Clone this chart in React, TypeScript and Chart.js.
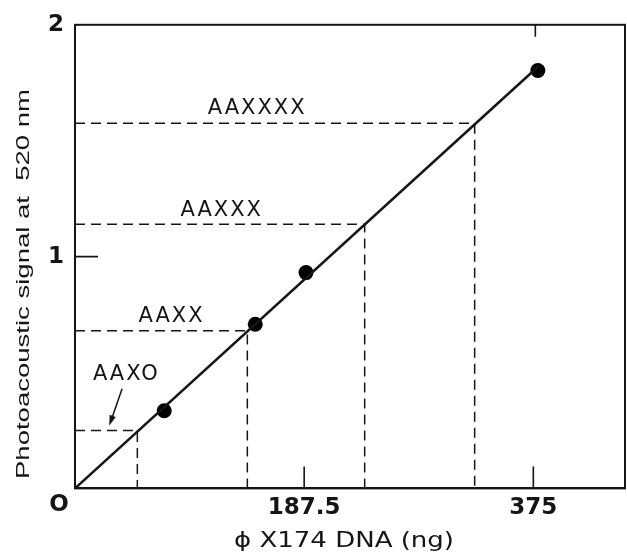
import React, { useEffect, useRef } from 'react';
import { Chart, registerables } from 'chart.js';

Chart.register(...registerables);

// ---- data ----
const pointsX = [73, 147.5, 189, 378.7];
const pointsY = [0.335, 0.708, 0.931, 1.803];
const fitX = [0, 379];
const fitY = [0, 1.82];
const guideLabels = ['AAXO', 'AAXX', 'AAXXX', 'AAXXXX'];
const guideX = [51, 141, 237, 327];
const guideY = [0.25, 0.68, 1.14, 1.575];
const labelX = [42, 79, 120, 149];
const labelY = [0.49, 0.74, 1.2, 1.64];
const arrowFrom = [38.5, 0.43];
const arrowTo = [28, 0.27];
const xTickValues = [187.5, 375];
const yTickValues = [1, 2];
const xMin = 0;
const xMax = 450;
const yMin = 0;
const yMax = 2;
const xTitle = 'ϕ X174 DNA (ng)';
const yTitle = 'Photoacoustic signal at  520 nm';
const originLabel = 'O';

const INK = '#151515';

const decorPlugin = {
  id: 'decor',
  afterDatasetsDraw(chart: any) {
    const { ctx, chartArea } = chart;
    const xs = chart.scales.x;
    const ys = chart.scales.y;
    const { left, right, top, bottom } = chartArea;
    ctx.save();
    // frame
    ctx.strokeStyle = INK;
    ctx.lineWidth = 2;
    ctx.strokeRect(left, top, right - left, bottom - top);
    // inward ticks
    ctx.lineWidth = 1.6;
    ctx.beginPath();
    xTickValues.forEach((v) => {
      const px = xs.getPixelForValue(v);
      ctx.moveTo(px, bottom);
      ctx.lineTo(px, bottom - 22);
    });
    const px375 = xs.getPixelForValue(xTickValues[1]);
    ctx.moveTo(px375 + 2, top);
    ctx.lineTo(px375 + 2, top + 12);
    const py1 = ys.getPixelForValue(yTickValues[0]);
    ctx.moveTo(left, py1);
    ctx.lineTo(left + 23, py1);
    ctx.stroke();

    // guide labels
    ctx.fillStyle = INK;
    ctx.font = '21px "DejaVu Sans"';
    (ctx as any).letterSpacing = '2px';
    ctx.textAlign = 'center';
    ctx.textBaseline = 'middle';
    guideLabels.forEach((t, i) => {
      ctx.fillText(t, xs.getPixelForValue(labelX[i]), ys.getPixelForValue(labelY[i]));
    });
    (ctx as any).letterSpacing = '0px';

    // arrow
    const ax0 = xs.getPixelForValue(arrowFrom[0]);
    const ay0 = ys.getPixelForValue(arrowFrom[1]);
    const ax1 = xs.getPixelForValue(arrowTo[0]);
    const ay1 = ys.getPixelForValue(arrowTo[1]);
    const ang = Math.atan2(ay1 - ay0, ax1 - ax0);
    ctx.lineWidth = 1.5;
    ctx.beginPath();
    ctx.moveTo(ax0, ay0);
    ctx.lineTo(ax1 - 6 * Math.cos(ang), ay1 - 6 * Math.sin(ang));
    ctx.stroke();
    ctx.beginPath();
    ctx.moveTo(ax1, ay1);
    ctx.lineTo(ax1 - 11 * Math.cos(ang - 0.3), ay1 - 11 * Math.sin(ang - 0.3));
    ctx.lineTo(ax1 - 11 * Math.cos(ang + 0.3), ay1 - 11 * Math.sin(ang + 0.3));
    ctx.closePath();
    ctx.fill();

    // origin label
    ctx.font = 'bold 23px "DejaVu Sans"';
    ctx.fillText(originLabel, left - 16, bottom + 17);

    // x title
    ctx.font = '22px "DejaVu Sans"';
    const wx = ctx.measureText(xTitle).width;
    ctx.save();
    ctx.translate(344, bottom + 53);
    ctx.scale(220 / wx, 1);
    ctx.fillText(xTitle, 0, 0);
    ctx.restore();

    // y title
    ctx.font = '18px "Liberation Sans", Arial, sans-serif';
    const wy = ctx.measureText(yTitle).width;
    ctx.save();
    ctx.translate(24, 284);
    ctx.rotate(-Math.PI / 2);
    ctx.scale(390 / wy, 1);
    ctx.fillText(yTitle, 0, 0);
    ctx.restore();

    ctx.restore();
  },
};

export default function App() {
  const ref = useRef<HTMLCanvasElement | null>(null);

  useEffect(() => {
    if (!ref.current) return;
    const guideSets = guideLabels.map((name, i) => ({
      label: name,
      data: [
        { x: xMin, y: guideY[i] },
        { x: guideX[i], y: guideY[i] },
        { x: guideX[i], y: yMin },
      ],
      showLine: true,
      borderColor: INK,
      borderWidth: 1.5,
      borderDash: [10, 6],
      pointRadius: 0,
      fill: false,
    }));
    const chart = new Chart(ref.current, {
      type: 'scatter',
      data: {
        datasets: [
          ...guideSets,
          {
            label: 'fit',
            data: fitX.map((x, i) => ({ x, y: fitY[i] })),
            showLine: true,
            borderColor: INK,
            borderWidth: 2.5,
            pointRadius: 0,
          },
          {
            label: 'measured',
            data: pointsX.map((x, i) => ({ x, y: pointsY[i] })),
            backgroundColor: '#000',
            borderColor: '#000',
            pointRadius: 7.5,
            pointBorderWidth: 0,
          },
        ] as any,
      },
      options: {
        animation: false,
        responsive: false,
        layout: { autoPadding: false, padding: { left: 37, right: 2, top: 22, bottom: 26 } },
        plugins: {
          legend: { display: false },
          tooltip: { enabled: false },
        },
        scales: {
          x: {
            type: 'linear',
            min: xMin,
            max: xMax,
            afterBuildTicks: (s: any) => {
              s.ticks = xTickValues.map((v) => ({ value: v }));
            },
            grid: { display: false, drawTicks: false },
            border: { display: true, color: INK, width: 2 },
            ticks: {
              autoSkip: false,
              maxRotation: 0,
              padding: 6,
              color: INK,
              font: { family: 'DejaVu Sans', size: 23, weight: 'bold' },
              callback: (v: any) => String(v),
            },
          },
          y: {
            type: 'linear',
            min: yMin,
            max: yMax,
            afterBuildTicks: (s: any) => {
              s.ticks = yTickValues.map((v) => ({ value: v }));
            },
            grid: { display: false, drawTicks: false },
            border: { display: true, color: INK, width: 2 },
            ticks: {
              autoSkip: false,
              padding: 11,
              color: INK,
              font: { family: 'DejaVu Sans', size: 23, weight: 'bold' },
              callback: (v: any) => String(v),
            },
          },
        },
      } as any,
      plugins: [decorPlugin],
    });
    return () => chart.destroy();
  }, []);

  return (
    <div style={{ position: 'absolute', left: 0, top: 0, width: 627, height: 554, background: '#fff' }}>
      <canvas ref={ref} width={627} height={554} style={{ display: 'block' }} />
    </div>
  );
}
